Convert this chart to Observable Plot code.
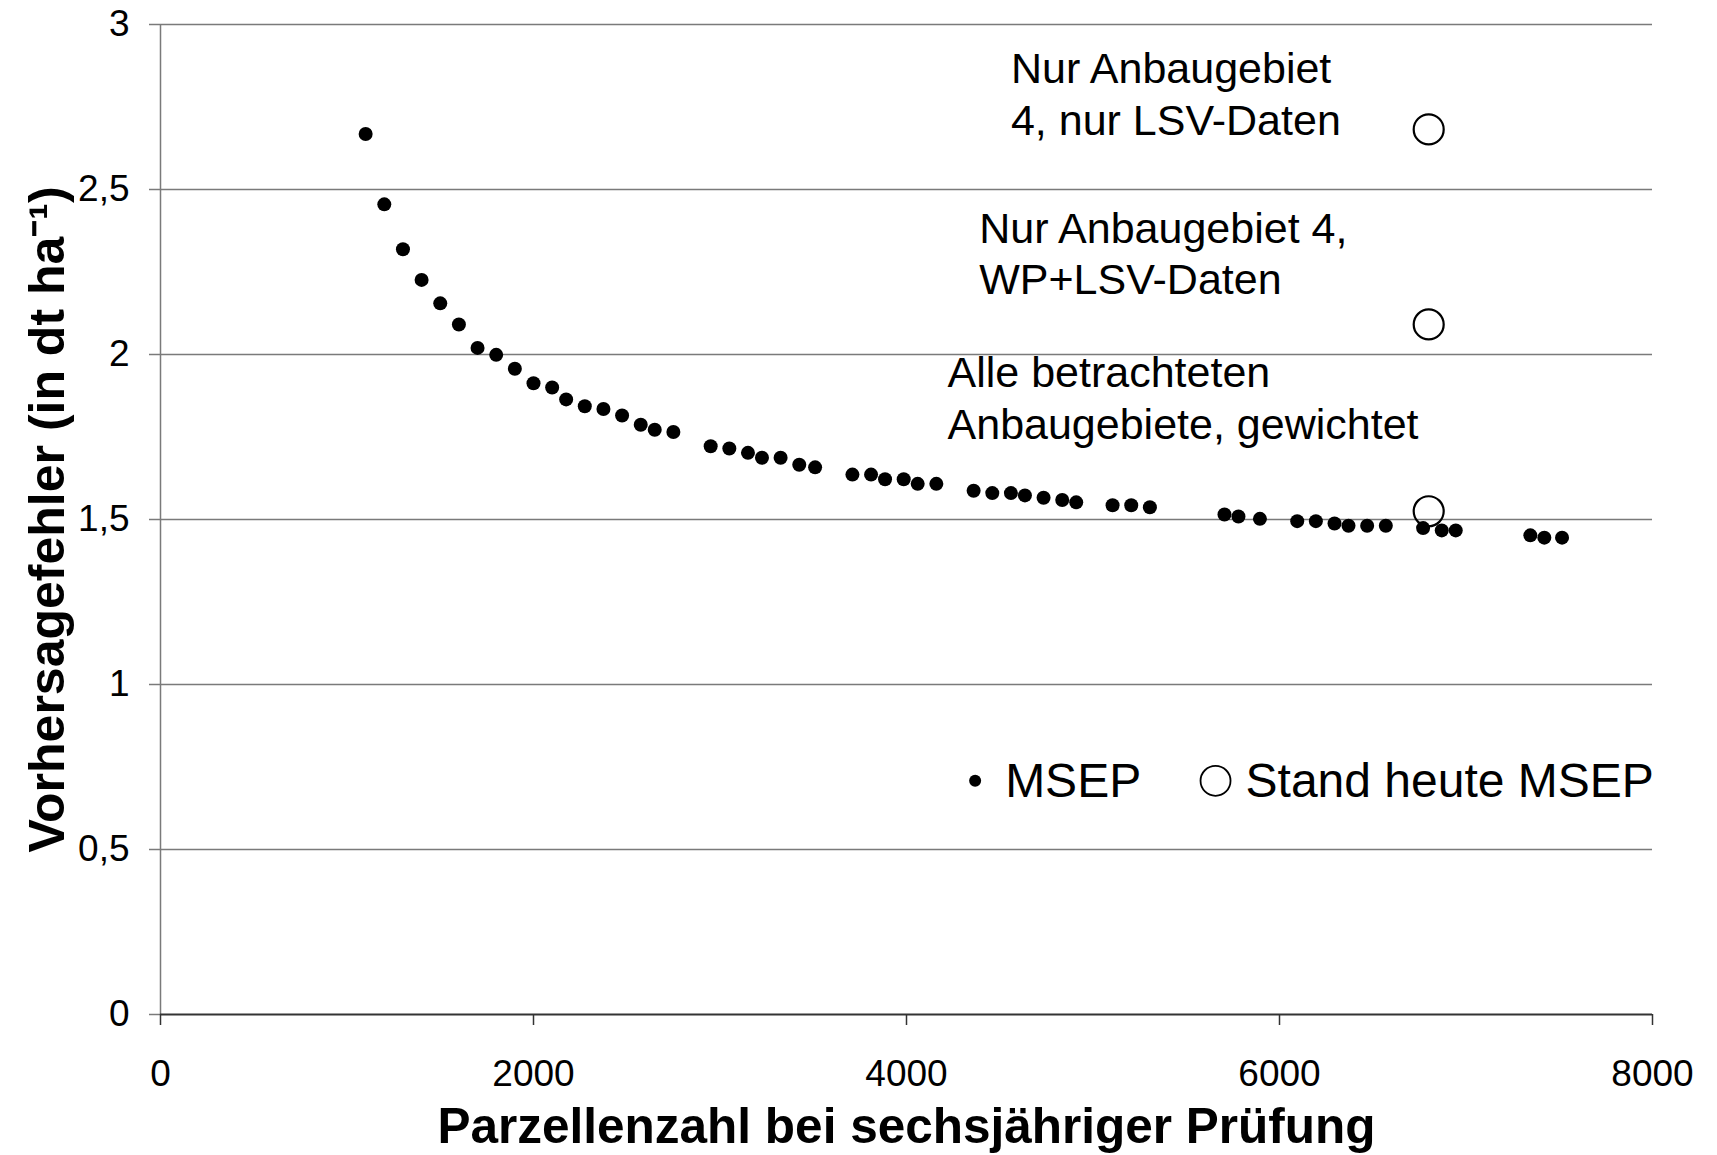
<!DOCTYPE html>
<html>
<head>
<meta charset="utf-8">
<script src="https://cdn.jsdelivr.net/npm/d3@7"></script>
<script src="https://cdn.jsdelivr.net/npm/@observablehq/plot@0.6"></script>
<style>
  html, body { margin: 0; padding: 0; background: #ffffff; }
  #chart svg { display: block; }
</style>
</head>
<body>
<div id="chart"></div>
<script>
// Parzellenzahl (x) and MSEP (y) for the filled series
const parzellen = [1100, 1200, 1300, 1400, 1500, 1600, 1700, 1800, 1900, 2000,
  2100, 2175, 2275, 2375, 2475, 2575, 2650, 2750, 2950, 3050,
  3150, 3225, 3325, 3425, 3510, 3710, 3810, 3885, 3985, 4060,
  4160, 4360, 4460, 4560, 4635, 4735, 4835, 4910, 5105, 5205,
  5305, 5705, 5780, 5895, 6095, 6195, 6295, 6370, 6470, 6570,
  6770, 6870, 6945, 7345, 7420, 7515];
const msep = [2.668, 2.455, 2.319, 2.226, 2.155, 2.091, 2.020, 1.999, 1.957, 1.913,
  1.900, 1.864, 1.843, 1.835, 1.815, 1.787, 1.772, 1.765, 1.722, 1.715,
  1.702, 1.687, 1.687, 1.666, 1.658, 1.636, 1.636, 1.622, 1.622, 1.608,
  1.608, 1.587, 1.580, 1.580, 1.573, 1.566, 1.559, 1.552, 1.543, 1.543,
  1.537, 1.515, 1.509, 1.502, 1.495, 1.495, 1.488, 1.481, 1.481, 1.481,
  1.474, 1.467, 1.467, 1.452, 1.445, 1.445];

// "Stand heute MSEP" (open circles)
const standX = [6800, 6800, 6800];
const standY = [2.682, 2.091, 1.525];

// Annotation texts (anchored in data units: left edge, last-line baseline)
const annoLabels = ["Nur Anbaugebiet\n4, nur LSV-Daten", "Nur Anbaugebiet 4,\nWP+LSV-Daten", "Alle betrachteten\nAnbaugebiete, gewichtet"];
const annoX = [4560, 4390, 4220];
const annoY = [2.665, 2.183, 1.745];

// Legend
const legendLabels = ["MSEP", "Stand heute MSEP"];
const legendX = [4368, 5657];
const legendY = [0.708, 0.708];
const legendTextY = 0.6576;

// Axes
const xTicks = [0, 2000, 4000, 6000, 8000];
const yTicks = [0, 0.5, 1, 1.5, 2, 2.5, 3];
const xTitle = "Parzellenzahl bei sechsjähriger Prüfung";
const yTitle = "Vorhersagefehler (in dt ha⁻¹)";

const points = parzellen.map((x, i) => ({x, y: msep[i]}));
const stand = standX.map((x, i) => ({x, y: standY[i]}));

const FONT = "'Liberation Sans', Arial, Helvetica, sans-serif";
const GRID = "#7a7a7a";

const chart = Plot.plot({
  width: 1717,
  height: 1155,
  marginLeft: 160,
  marginRight: 65,
  marginTop: 24,
  marginBottom: 141,
  style: {fontFamily: FONT, background: "#ffffff", color: "#000000"},
  x: {domain: [0, 8000]},
  y: {domain: [0, 3]},
  marks: [
    Plot.ruleY(yTicks.filter(d => d > 0), {stroke: GRID, strokeWidth: 1.5}),
    Plot.ruleX([0], {stroke: GRID, strokeWidth: 1.5}),
    Plot.axisY({ticks: yTicks, tickSize: 11, tickPadding: 20, fontSize: 37, stroke: GRID, strokeWidth: 1.5, fill: "#000",
      tickFormat: d => String(d).replace(".", ","), label: null}),
    Plot.axisX({ticks: xTicks, tickSize: 11, tickPadding: 34, fontSize: 37, stroke: "#333", strokeWidth: 1.5, fill: "#000",
      tickFormat: d => String(d), label: null}),
    Plot.ruleY([0], {stroke: "#333", strokeWidth: 2}),
    Plot.text([yTitle], {frameAnchor: "left", rotate: -90, dx: -97, textAnchor: "middle", lineAnchor: "bottom",
      fontSize: 50, fontWeight: "bold", fill: "#000"}),
    Plot.text([xTitle], {frameAnchor: "bottom", dy: 128, textAnchor: "middle", lineAnchor: "bottom",
      fontSize: 49.5, fontWeight: "bold", fill: "#000"}),
    Plot.dot(points, {x: "x", y: "y", r: 7, fill: "#000", stroke: "none"}),
    Plot.dot(stand, {x: "x", y: "y", r: 15, fill: "none", stroke: "#000", strokeWidth: 2.2}),
    Plot.text(annoLabels, {x: (d, i) => annoX[i], y: (d, i) => annoY[i], text: d => d,
      textAnchor: "start", lineAnchor: "bottom", lineHeight: 1.2, fontSize: 43, fill: "#000"}),
    Plot.dot([legendLabels[0]], {x: () => legendX[0], y: () => legendY[0], r: 6, fill: "#000", stroke: "none"}),
    Plot.dot([legendLabels[1]], {x: () => legendX[1], y: () => legendY[1], r: 15, fill: "none", stroke: "#000", strokeWidth: 1.8}),
    Plot.text(legendLabels, {x: (d, i) => legendX[i], y: () => legendTextY, text: d => d, dx: 30,
      textAnchor: "start", lineAnchor: "bottom", fontSize: 48, fill: "#000"})
  ]
});

document.getElementById("chart").appendChild(chart);
</script>
</body>
</html>
